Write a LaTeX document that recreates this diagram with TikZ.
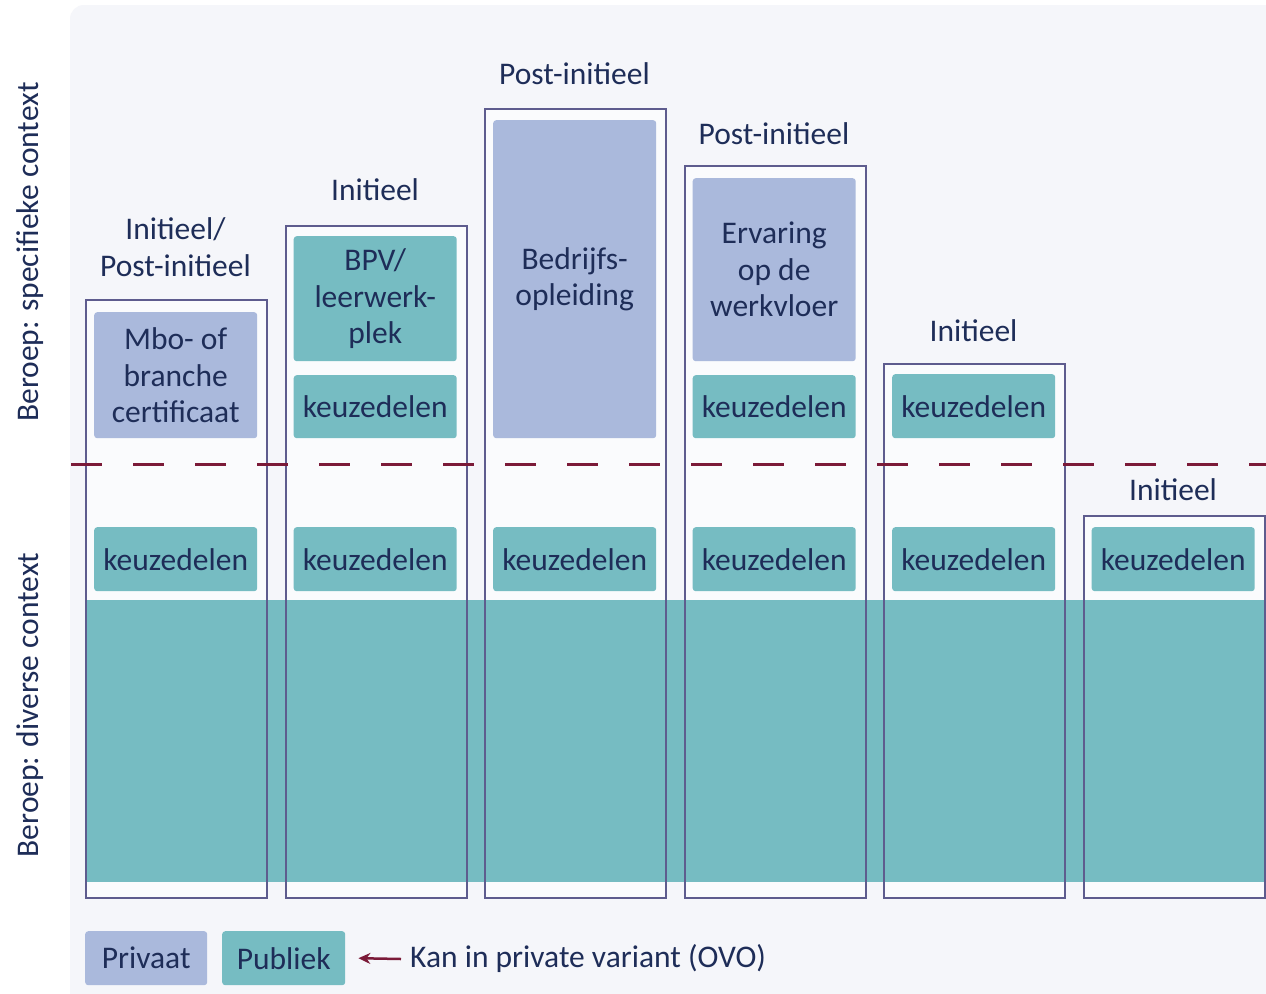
\documentclass[tikz,border=0pt]{standalone}
\usepackage{fontspec}
\setmainfont{Carlito}
\usetikzlibrary{arrows.meta}
\definecolor{panel}{HTML}{F5F6FA}
\definecolor{colfill}{HTML}{FAFBFD}
\definecolor{teal}{HTML}{76BCC2}
\definecolor{lav}{HTML}{AAB9DC}
\definecolor{txt}{HTML}{1E2D58}
\definecolor{outl}{HTML}{5E5C8E}
\definecolor{dred}{HTML}{7B1A38}
\tikzset{
  colbox/.style={draw=outl, line width=2pt, anchor=north west, inner sep=0pt, minimum width=181pt},
  pub/.style={fill=teal, rounded corners=3pt, anchor=north west, inner sep=0pt, text=txt, align=center, font=\fontsize{31.5}{36.5}\selectfont},
  priv/.style={pub, fill=lav},
  lbl/.style={text=txt, align=center, inner sep=0pt, font=\fontsize{31.5}{37}\selectfont},
}
\begin{document}
\begin{tikzpicture}[x=1pt,y=-1pt]
\useasboundingbox (0,0) rectangle (1266,993);
\clip (0,0) rectangle (1266,993);
\fill[white] (0,0) rectangle (1266,993);
\fill[panel, rounded corners=14pt] (70,5) rectangle (1300,1020);
% column fills
\foreach \x/\t in {85/299, 284.5/225, 484/108, 683.5/165, 883/363, 1082.5/515}
  \fill[colfill] (\x,\t) rectangle (\x+181,897);
% teal band
\fill[teal] (85,600) rectangle (1263.5,882);
% column outlines
\node[colbox, minimum height=598pt] (c1) at (85,299) {};
\node[colbox, minimum height=672pt] (c2) at (284.5,225) {};
\node[colbox, minimum height=789pt] (c3) at (484,108) {};
\node[colbox, minimum height=732pt] (c4) at (683.5,165) {};
\node[colbox, minimum height=534pt] (c5) at (883,363) {};
\node[colbox, minimum height=382pt] (c6) at (1082.5,515) {};
% dashed line
\draw[dred, line width=3pt, dash pattern=on 31pt off 31pt] (71,464) -- (1266,464);
% upper boxes
\node[priv, minimum width=163pt, minimum height=126pt] (mbo) at (94,312) {Mbo- of\\branche\\certificaat};
\node[pub, minimum width=163pt, minimum height=125pt] (bpv) at (293.5,236) {BPV/\\leerwerk-\\plek};
\node[pub, minimum width=163pt, minimum height=63pt] (k2a) at (293.5,375) {keuzedelen};
\node[priv, minimum width=163pt, minimum height=318pt] (bedr) at (493,120) {Bedrijfs-\\opleiding};
\node[priv, minimum width=163pt, minimum height=183pt] (erv) at (692.5,178) {Ervaring\\op de\\werkvloer};
\node[pub, minimum width=163pt, minimum height=63pt] (k4a) at (692.5,375) {keuzedelen};
\node[pub, minimum width=163pt, minimum height=64pt] (k5a) at (892,374) {keuzedelen};
% lower keuzedelen
\node[pub, minimum width=163pt, minimum height=64pt] (k1b) at (94,527) {keuzedelen};
\node[pub, minimum width=163pt, minimum height=64pt] (k2b) at (293.5,527) {keuzedelen};
\node[pub, minimum width=163pt, minimum height=64pt] (k3b) at (493,527) {keuzedelen};
\node[pub, minimum width=163pt, minimum height=64pt] (k4b) at (692.5,527) {keuzedelen};
\node[pub, minimum width=163pt, minimum height=64pt] (k5b) at (892,527) {keuzedelen};
\node[pub, minimum width=163pt, minimum height=64pt] (k6b) at (1091.5,527) {keuzedelen};
% column titles
\node[lbl] (t1) at (175.5,247) {Initieel/\\Post-initieel};
\node[lbl] (t2) at (375,190) {Initieel};
\node[lbl] (t3) at (574.5,74) {Post-initieel};
\node[lbl] (t4) at (774,134) {Post-initieel};
\node[lbl] (t5) at (973.5,331) {Initieel};
\node[lbl] (t6) at (1173,490) {Initieel};
% side labels
\node[lbl, rotate=90] (s1) at (30,252) {Beroep: specifieke context};
\node[lbl, rotate=90] (s2) at (30,705) {Beroep: diverse context};
% legend
\node[priv, minimum width=122pt, minimum height=54pt] (lp) at (85,931) {Privaat};
\node[pub, minimum width=123pt, minimum height=54pt] (lq) at (222,931) {Publiek};
\node[lbl, anchor=west] (lt) at (410,959) {Kan in private variant (OVO)};
\draw[dred, line width=2.5pt, -{Stealth[length=12pt,width=11pt]}] ([xshift=-9pt]lt.west) -- ([xshift=13pt]lq.east);
\end{tikzpicture}
\end{document}
